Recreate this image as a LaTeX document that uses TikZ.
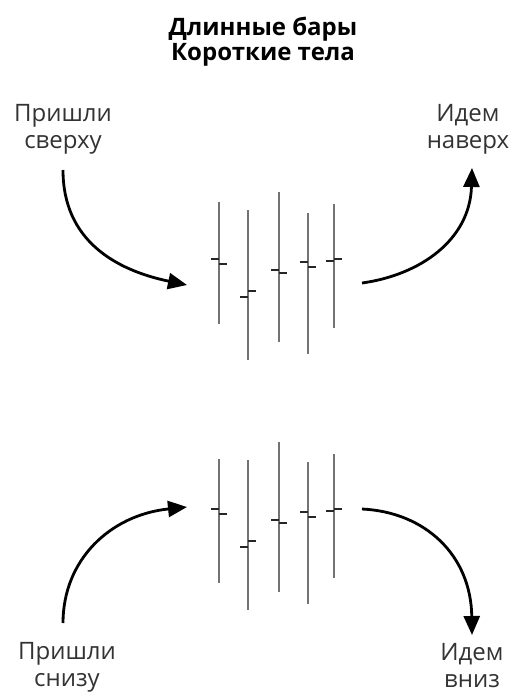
\documentclass[tikz,border=0pt]{standalone}
\usepackage{fontspec}
\setmainfont{Open Sans}
\usetikzlibrary{arrows.meta}

\begin{document}
\begin{tikzpicture}[
  x=1pt, y=-1pt,
  font=\fontsize{24}{27}\selectfont,
  ttl/.style={font=\fontsize{24}{25}\selectfont\bfseries, align=center, text=black, inner sep=0pt},
  lbl/.style={align=center, text=black!80, inner sep=0pt},
  wick/.style={line width=2.8pt, draw=black!55},
  body/.style={line width=2.8pt, draw=black!85},
  arr/.style={-{Triangle[length=19pt,width=16pt]}, line width=2.8pt},
]
\useasboundingbox (0,0) rectangle (515,694);

% ---- title
\node[ttl] (title) at (263,42) {Длинные бары\\Короткие тела};

% ---- labels
\node[lbl] (fromUp) at (63,129) {Пришли\\сверху};
\node[lbl] (goUp) at (468,129) {Идем\\наверх};
\node[lbl] (fromDown) at (67,667) {Пришли\\снизу};
\node[lbl] (goDown) at (472,666) {Идем\\вниз};

% ---- candles, upper group
\foreach \x/\t/\b/\l/\r in {219/202/324/259/264,248/210/360/297/291,279/192/342/270/273,308/213/354/262/267,334/204/328/261/259}{
  \draw[wick] (\x,\t) -- (\x,\b);
  \draw[body] (\x-8,\l) -- (\x,\l);
  \draw[body] (\x,\r) -- (\x+8,\r);
}

% ---- candles, lower group
\foreach \x/\t/\b/\l/\r in {219/459/583/509/514,248/460/610/547/541,279/442/592/520/523,308/462/604/512/517,334/454/578/511/509}{
  \draw[wick] (\x,\t) -- (\x,\b);
  \draw[body] (\x-8,\l) -- (\x,\l);
  \draw[body] (\x,\r) -- (\x+8,\r);
}

% ---- arrow ends
\coordinate (inA) at (63,170);
\coordinate (inAend) at (187,285);
\coordinate (outA) at (362,283);
\coordinate (outAend) at (472,168);
\coordinate (inB) at (63,623);
\coordinate (inBend) at (187,507);
\coordinate (outB) at (362,509);
\coordinate (outBend) at (472,635);

% ---- arrows
\draw[arr] (inA) .. controls (63,240) and (115,270) .. (inAend);
\draw[arr] (outA) .. controls (420,275) and (470,240) .. (outAend);
\draw[arr] (inB) .. controls (63,560) and (110,515) .. (inBend);
\draw[arr] (outB) .. controls (425,512) and (471,555) .. (outBend);
\end{tikzpicture}
\end{document}
